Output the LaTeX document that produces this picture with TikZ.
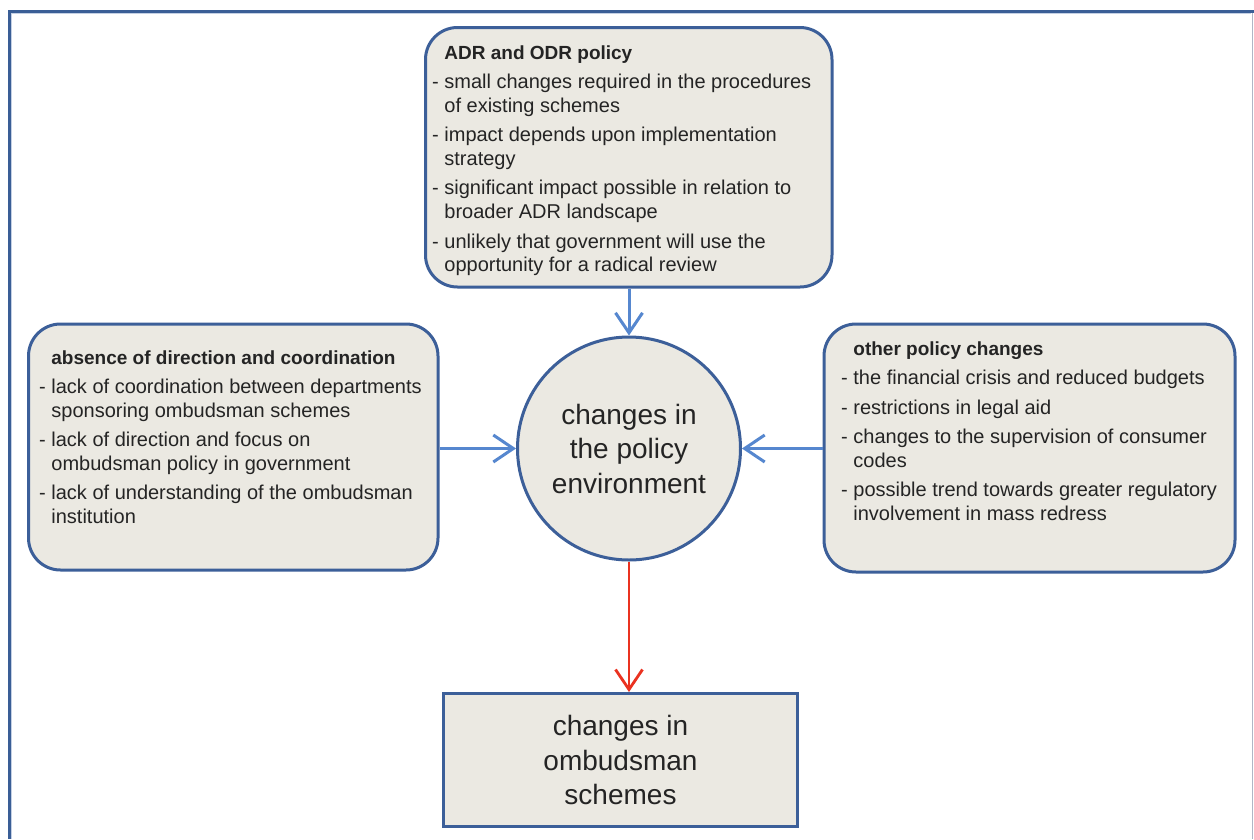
\documentclass[tikz,border=0pt]{standalone}
\usepackage{fontspec}
\setmainfont{Liberation Sans}
\usetikzlibrary{arrows.meta}

\definecolor{panelfill}{RGB}{235,233,226}
\definecolor{panelline}{RGB}{60,95,153}
\definecolor{linkblue}{RGB}{86,135,207}
\definecolor{linkred}{RGB}{234,50,32}
\definecolor{inktext}{RGB}{36,36,36}
\definecolor{frameblue}{RGB}{58,94,150}
\definecolor{frameshade}{RGB}{196,208,228}
\definecolor{framegray}{RGB}{176,182,198}

% indent of continuation lines, space between list entries, list headings
\newcommand\cont{\hphantom{- }}
\newcommand\itemgap{\\[5.5pt]}
\newcommand\heading[1]{\cont{\bfseries\fontsize{19}{23.8}\selectfont #1}}

\begin{document}
\begin{tikzpicture}[x=1pt,y=-1pt,
  panel/.style={draw=panelline, fill=panelfill, line width=3pt,
    rounded corners=32pt, inner sep=0pt},
  hub/.style={circle, draw=panelline, fill=panelfill, line width=3pt,
    minimum size=223pt, inner sep=0pt, align=center, text=inktext,
    font=\fontsize{28}{34.5}\selectfont},
  outcome/.style={rectangle, draw=panelline, fill=panelfill, line width=3pt,
    inner sep=0pt, align=center, text=inktext,
    font=\fontsize{28}{34.5}\selectfont},
  listtext/.style={anchor=north west, align=left, inner sep=0pt,
    text=inktext, font=\fontsize{20}{23.8}\selectfont},
  feed/.style={draw=linkblue, line width=3pt,
    -{Straight Barb[length=20pt,width=27pt]}},
  result/.style={draw=linkred, line width=2.8pt,
    -{Straight Barb[length=20pt,width=27pt]}}
]
\useasboundingbox (0,0) rectangle (1254,839);
\fill[white] (0,0) rectangle (1254,839);

% page frame
\draw[frameshade, line width=1pt] (11.5,839) -- (11.5,13.5) -- (1251,13.5);
\draw[frameblue, line width=3pt] (9.5,839) -- (9.5,11.5) -- (1254,11.5);
\draw[framegray, line width=1.5pt] (1252.5,13) -- (1252.5,839);

% panels
\node[panel, minimum width=406.5pt, minimum height=259.5pt] (adr) at (628.75,157.25) {};
\node[panel, minimum width=409.5pt, minimum height=246pt] (absence) at (233.25,447) {};
\node[panel, minimum width=411pt, minimum height=248pt] (other) at (1029.5,448) {};

% central circle and resulting box
\node[hub] (env) at (629,448.5) {changes in\\the policy\\environment};
\node[outcome, minimum width=354pt, minimum height=133pt] (schemes) at (620.5,760)
  {changes in\\ombudsman\\schemes};

% panel contents
\node[listtext] (adrtext) at (432,45.5) {%
  \heading{ADR and ODR policy}\itemgap
  - small changes required in the procedures\\
  \cont of existing schemes\itemgap
  - impact depends upon implementation\\
  \cont strategy\itemgap
  - significant impact possible in relation to\\
  \cont broader ADR landscape\itemgap
  - unlikely that government will use the\\
  \cont opportunity for a radical review};

\node[listtext] (absencetext) at (39,350.5) {%
  \heading{absence of direction and coordination}\itemgap
  - lack of coordination between departments\\
  \cont sponsoring ombudsman schemes\itemgap
  - lack of direction and focus on\\
  \cont ombudsman policy in government\itemgap
  - lack of understanding of the ombudsman\\
  \cont institution};

\node[listtext] (othertext) at (841,341.5) {%
  \heading{other policy changes}\itemgap
  - the financial crisis and reduced budgets\itemgap
  - restrictions in legal aid\itemgap
  - changes to the supervision of consumer\\
  \cont codes\itemgap
  - possible trend towards greater regulatory\\
  \cont involvement in mass redress};

% connectors
\draw[feed] (adr.south -| env.north) -- (env.north);
\draw[feed] (absence.east |- env.west) -- (env.west);
\draw[feed] (other.west |- env.east) -- (env.east);
\draw[result] (env.south) -- (env.south |- schemes.north);
\end{tikzpicture}
\end{document}
